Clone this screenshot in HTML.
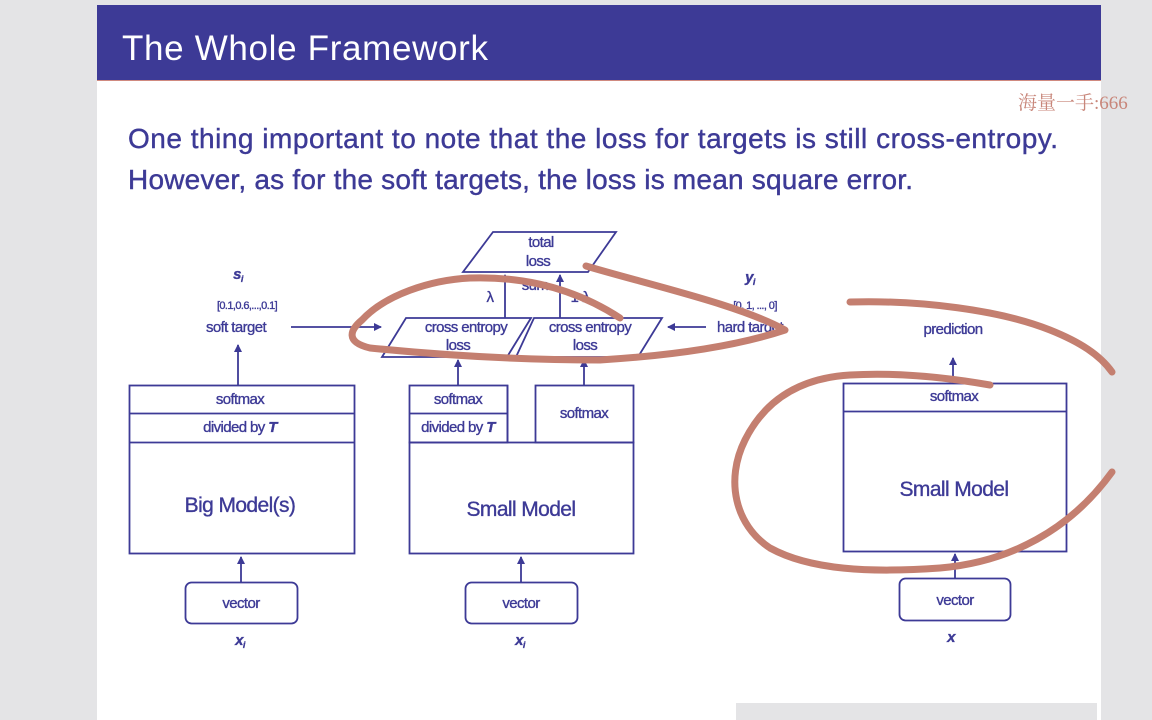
<!DOCTYPE html>
<html><head><meta charset="utf-8"><style>
html,body{margin:0;padding:0;background:#e4e4e6;width:1152px;height:720px;overflow:hidden}
svg{display:block}
text{font-family:"Liberation Sans",sans-serif;fill:#3d3a96}
</style></head><body>
<svg width="1152" height="720" xmlns="http://www.w3.org/2000/svg">
<rect x="0" y="0" width="1152" height="720" fill="#e4e4e6"/>
<rect x="97" y="5" width="1004" height="715" fill="#ffffff"/>
<rect x="97" y="5" width="1004" height="75" fill="#3d3a96"/>
<line x1="97" y1="80.5" x2="1101" y2="80.5" stroke="#d08a80" stroke-width="1"/>
<text x="122" y="60" font-size="35" style="fill:#fff" textLength="366">The Whole Framework</text>
<text x="1018" y="109" font-size="19" style="fill:#c8867a;font-family:'Liberation Serif','Noto Serif CJK SC',serif">海量一手:666</text>
<g stroke="#3d3a96" stroke-width="0.4">
<text x="128" y="148" font-size="28" textLength="930">One thing important to note that the loss for targets is still cross-entropy.</text>
<text x="128" y="189" font-size="28" textLength="785">However, as for the soft targets, the loss is mean square error.</text>
</g>
<rect x="736" y="703" width="361" height="17" fill="#e4e4e6"/>

<defs><marker id="a" markerWidth="8" markerHeight="8" refX="7" refY="4" orient="auto" markerUnits="userSpaceOnUse"><path d="M0,0 L8,4 L0,8 z" fill="#3d3a96"/></marker></defs>
<g stroke="#3d3a96" stroke-width="1.8" fill="none">
<rect x="129.5" y="385.5" width="225" height="168"/>
<line x1="129" y1="413.5" x2="354" y2="413.5"/>
<line x1="129" y1="442.5" x2="354" y2="442.5"/>
<rect x="185.5" y="582.5" width="112" height="41" rx="6"/>
<line x1="241" y1="582" x2="241" y2="557" marker-end="url(#a)"/>
<line x1="238" y1="385" x2="238" y2="345" marker-end="url(#a)"/>
<rect x="409.5" y="442.5" width="224" height="111"/>
<rect x="409.5" y="385.5" width="98" height="57"/>
<line x1="409" y1="413.5" x2="507" y2="413.5"/>
<line x1="507.5" y1="385" x2="507.5" y2="442"/>
<rect x="535.5" y="385.5" width="98" height="57"/>
<rect x="465.5" y="582.5" width="112" height="41" rx="6"/>
<line x1="521" y1="582" x2="521" y2="557" marker-end="url(#a)"/>
<line x1="458" y1="385" x2="458" y2="360" marker-end="url(#a)"/>
<line x1="584" y1="385" x2="584" y2="360" marker-end="url(#a)"/>
<polygon points="406,318 531,318 507,357 382,357"/>
<polygon points="534,318 662,318 638,357 516,357"/>
<polygon points="493,232 616,232 588,272 463,272"/>
<line x1="505" y1="318" x2="505" y2="275" marker-end="url(#a)"/>
<line x1="560" y1="318" x2="560" y2="275" marker-end="url(#a)"/>
<line x1="291" y1="327" x2="381" y2="327" marker-end="url(#a)"/>
<line x1="706" y1="327" x2="668" y2="327" marker-end="url(#a)"/>
<rect x="843.5" y="383.5" width="223" height="168"/>
<line x1="843" y1="411.5" x2="1066" y2="411.5"/>
<rect x="899.5" y="578.5" width="111" height="42" rx="6"/>
<line x1="955" y1="578" x2="955" y2="554" marker-end="url(#a)"/>
<line x1="953" y1="383" x2="953" y2="358" marker-end="url(#a)"/>
</g>
<g font-size="15" text-anchor="middle" letter-spacing="-0.6" stroke="#3d3a96" stroke-width="0.35">
<text x="240" y="404">softmax</text>
<text x="240" y="432">divided by <tspan font-weight="bold" font-style="italic">T</tspan></text>
<text x="240" y="512" font-size="21">Big Model(s)</text>
<text x="241" y="608">vector</text>
<text x="240" y="645" font-weight="bold" font-style="italic">x<tspan font-size="9" dy="3">i</tspan></text>
<text x="458" y="404">softmax</text>
<text x="458" y="432">divided by <tspan font-weight="bold" font-style="italic">T</tspan></text>
<text x="584" y="418">softmax</text>
<text x="521" y="516" font-size="21">Small Model</text>
<text x="521" y="608">vector</text>
<text x="520" y="645" font-weight="bold" font-style="italic">x<tspan font-size="9" dy="3">i</tspan></text>
<text x="466" y="332">cross entropy</text>
<text x="458" y="350">loss</text>
<text x="590" y="332">cross entropy</text>
<text x="585" y="350">loss</text>
<text x="541" y="247">total</text>
<text x="538" y="266">loss</text>
<text x="535" y="290">sum</text>
<text x="490" y="302">λ</text>
<text x="580" y="302">1-λ</text>
<text x="238" y="279" font-weight="bold" font-style="italic">s<tspan font-size="9" dy="3">i</tspan></text>
<text x="247" y="309" font-size="11">[0.1,0.6,...,0.1]</text>
<text x="236" y="332">soft target</text>
<text x="750" y="282" font-weight="bold" font-style="italic">y<tspan font-size="9" dy="3">i</tspan></text>
<text x="755" y="309" font-size="11">[0, 1, ..., 0]</text>
<text x="750" y="332">hard target</text>
<text x="953" y="334">prediction</text>
<text x="954" y="401">softmax</text>
<text x="954" y="496" font-size="21">Small Model</text>
<text x="955" y="605">vector</text>
<text x="951" y="642" font-weight="bold" font-style="italic">x</text>
</g>
<g stroke="#c47f70" stroke-width="7" fill="none" stroke-linecap="round" stroke-linejoin="round">
<path d="M586,266 C650,285 740,305 785,330 C740,345 680,355 600,360 C520,360 440,355 370,348 C345,342 350,330 362,320 C385,295 430,280 470,278 C530,276 580,292 620,318"/>
<path d="M850,302 C920,300 1000,310 1050,330 C1080,342 1100,355 1112,372"/>
<path d="M990,385 C950,378 900,372 850,375 C800,378 765,400 745,440 C725,480 735,525 770,548 C810,570 870,573 940,568 C1010,562 1070,530 1112,472"/>
</g>
</svg>
</body></html>
